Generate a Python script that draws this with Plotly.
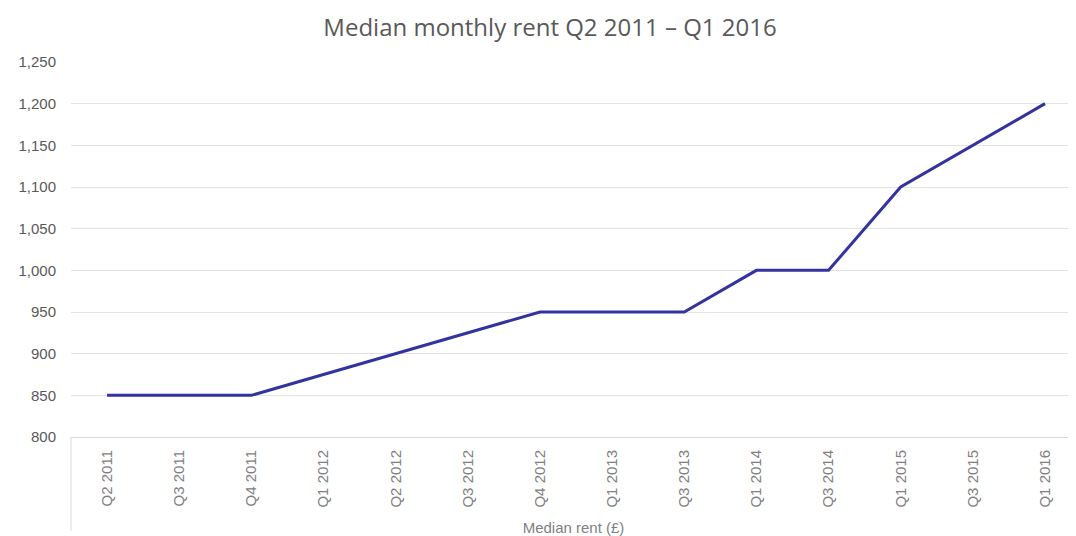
import plotly.graph_objects as go

quarters = ["Q2 2011", "Q3 2011", "Q4 2011", "Q1 2012", "Q2 2012", "Q3 2012", "Q4 2012",
            "Q1 2013", "Q3 2013", "Q1 2014", "Q3 2014", "Q1 2015", "Q3 2015", "Q1 2016"]
median_rent = [850, 850, 850, 875, 900, 925, 950, 950, 950, 1000, 1000, 1100, 1150, 1200]

fig = go.Figure()
fig.add_trace(go.Scatter(
    x=quarters, y=median_rent, mode="lines",
    line=dict(color="#3333A0", width=3),
    name="Median rent (£)", showlegend=False,
))

fig.update_layout(
    width=1068, height=528,
    margin=dict(l=63, r=0, t=54, b=99, autoexpand=False),
    paper_bgcolor="white", plot_bgcolor="white",
    title=dict(text="Median monthly rent Q2 2011 – Q1 2016",
               x=0.5075, xanchor="center", y=0.962, yanchor="middle",
               font=dict(family="Open Sans, sans-serif", size=24, color="#595959")),
    font=dict(family="Liberation Sans, Arial, sans-serif", color="#595959"),
)

fig.update_xaxes(
    type="category", range=[-0.5, 13.43],
    tickangle=-90, tickfont=dict(size=15, color="#808080"),
    showgrid=False, showline=True, linecolor="#d9d9d9", linewidth=1,
    ticks="", ticklabelstandoff=6, automargin=False,
    title=dict(text="Median rent (£)", font=dict(size=15, color="#808080"), standoff=16),
)
fig.update_yaxes(
    range=[800, 1250], dtick=50, tickformat=",",
    tickfont=dict(size=15, color="#595959"),
    showgrid=True, gridcolor="#e3e3e3", gridwidth=1,
    zeroline=False, showline=False, ticks="", ticklabelstandoff=14, automargin=False,
)

fig.add_shape(type="line", xref="paper", yref="paper",
              x0=0, x1=0, y0=0, y1=-0.25,
              line=dict(color="#d9d9d9", width=1))

fig.write_html("out.html")
